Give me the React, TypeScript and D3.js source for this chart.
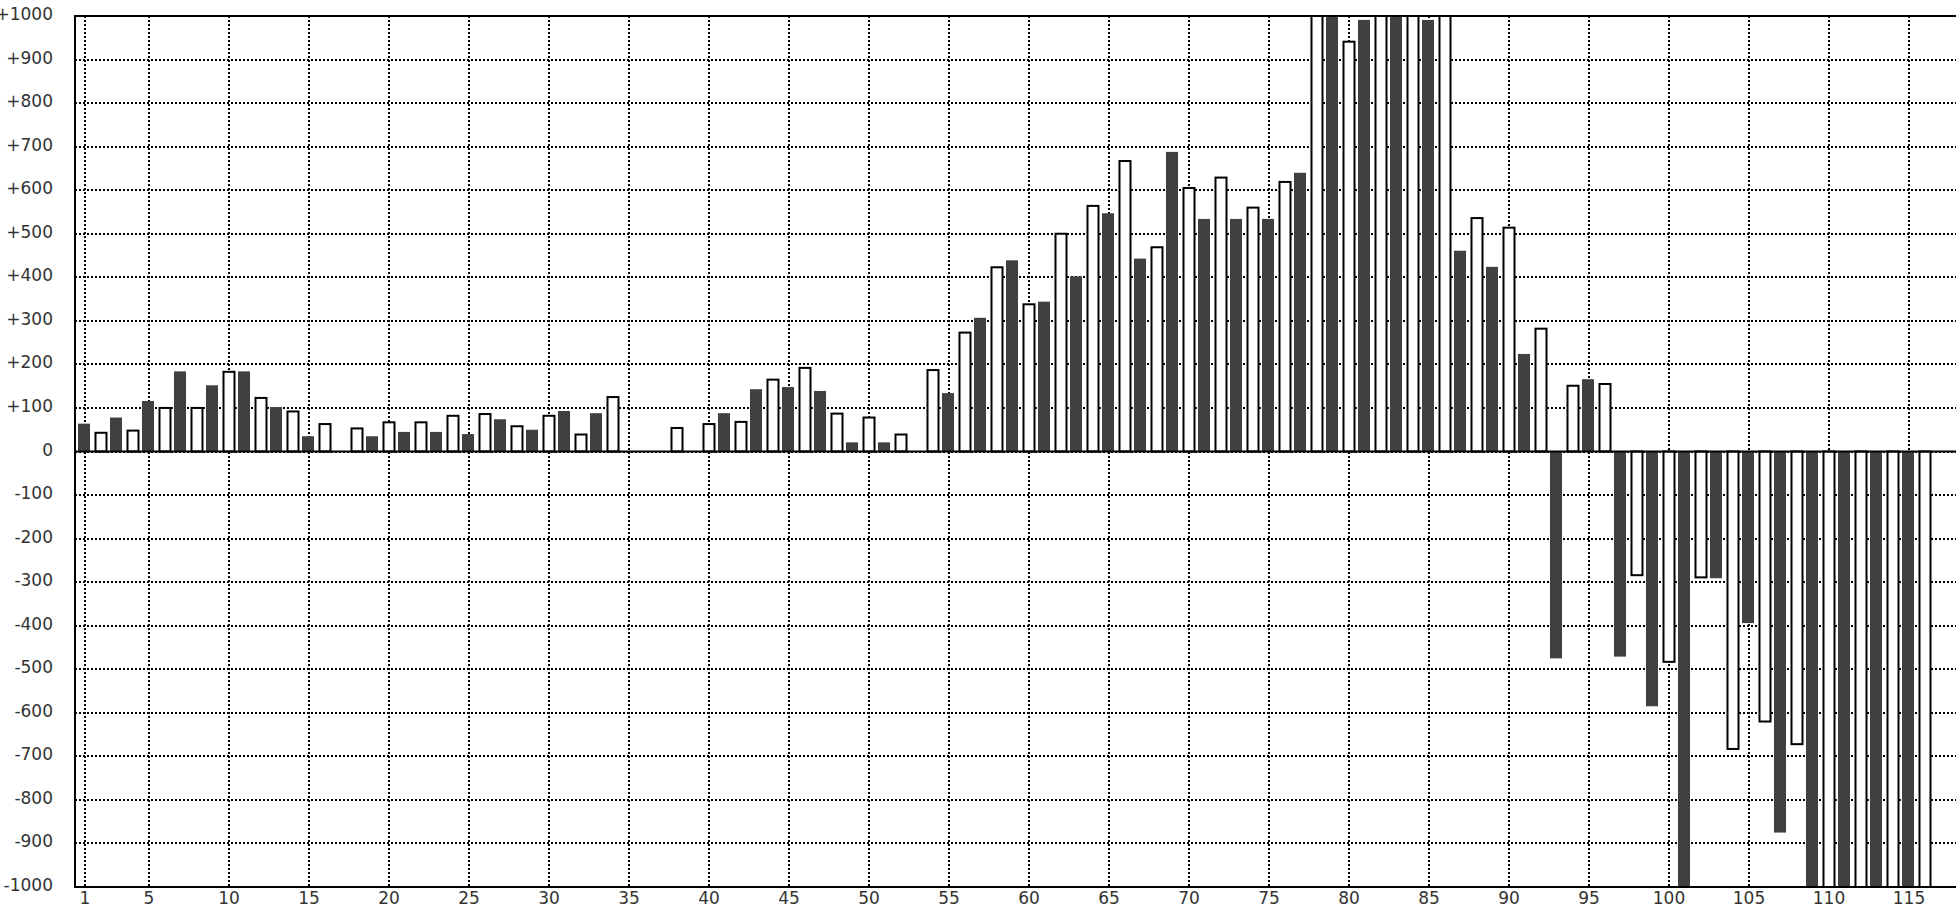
import React from "react";
import * as d3 from "d3";

// Odd positions (1,3,5,...,115) – dark bars
const darkPositions = [1,3,5,7,9,11,13,15,17,19,21,23,25,27,29,31,33,35,37,39,41,43,45,47,49,51,53,55,57,59,61,63,65,67,69,71,73,75,77,79,81,83,85,87,89,91,93,95,97,99,101,103,105,107,109,111,113,115];
const darkValues: (number | null)[] = [64,78,116,184,152,184,102,35,null,35,45,45,40,74,50,93,88,null,null,null,88,143,148,139,21,21,null,134,307,439,344,402,547,443,688,534,534,534,640,1200,991,1000,991,461,424,224,-475,166,-471,-585,-1200,-291,-394,-875,-1200,-1200,-1200,-1200];

// Even positions (2,4,...,116) – white bars
const whitePositions = [2,4,6,8,10,12,14,16,18,20,22,24,26,28,30,32,34,36,38,40,42,44,46,48,50,52,54,56,58,60,62,64,66,68,70,72,74,76,78,80,82,84,86,88,90,92,94,96,98,100,102,104,106,108,110,112,114,116];
const whiteValues: (number | null)[] = [43,48,100,100,183,123,92,63,53,67,67,82,86,58,82,39,125,null,54,63,68,165,192,87,78,39,187,273,423,338,500,564,667,469,605,629,560,619,1200,941,1200,1200,1200,536,514,282,151,155,-284,-483,-289,-683,-620,-672,-1200,-1200,-1200,-1200];

const xTicks = [1,5,10,15,20,25,30,35,40,45,50,55,60,65,70,75,80,85,90,95,100,105,110,115];
const yTicks = [-1000,-900,-800,-700,-600,-500,-400,-300,-200,-100,0,100,200,300,400,500,600,700,800,900,1000];

const W = 1956;
const H = 908;
const left = 75;
const top = 16;
const bottom = 887;
const right = 1960;

export default function App() {
  const x = d3.scaleLinear().domain([0, 118]).range([69, 69 + 16 * 118]);
  const y = d3.scaleLinear().domain([-1000, 1000]).range([bottom, top]);
  const y0 = y(0);
  const fmt = (v: number) => (v > 0 ? "+" + v : String(v));
  const font = "'DejaVu Sans', sans-serif";

  return (
    <svg width={W} height={H} style={{ position: "absolute", left: 0, top: 0, background: "#fff" }}>
      <defs>
        <clipPath id="plot">
          <rect x={left} y={top} width={right - left} height={bottom - top} />
        </clipPath>
      </defs>
      <rect x={0} y={0} width={W} height={H} fill="#fff" />
      <g clipPath="url(#plot)">
        {yTicks.map((t) => (
          <line key={"gy" + t} x1={left} x2={right} y1={Math.round(y(t))} y2={Math.round(y(t))} stroke="#000" strokeWidth={2} strokeDasharray="2 2" shapeRendering="crispEdges" />
        ))}
        {xTicks.map((t) => (
          <line key={"gx" + t} x1={Math.round(x(t))} x2={Math.round(x(t))} y1={top} y2={bottom} stroke="#000" strokeWidth={2} strokeDasharray="2 2" shapeRendering="crispEdges" />
        ))}
        {darkPositions.map((p, i) => {
          const v = darkValues[i];
          if (v === null) return null;
          const yv = y(v);
          return (
            <rect key={"d" + p} x={x(p) - 7} width={12} y={Math.min(yv, y0)} height={Math.abs(yv - y0)} fill="#404040" />
          );
        })}
        {whitePositions.map((p, i) => {
          const v = whiteValues[i];
          if (v === null) return null;
          const yv = y(v);
          return (
            <rect key={"w" + p} x={x(p) - 5.5} width={11} y={Math.min(yv, y0)} height={Math.abs(yv - y0)} fill="#fff" stroke="#000" strokeWidth={2} />
          );
        })}
        <line x1={left} x2={right} y1={y0} y2={y0} stroke="#000" strokeWidth={2} />
      </g>
      <line x1={left} x2={right} y1={top} y2={top} stroke="#000" strokeWidth={2} />
      <line x1={left} x2={right} y1={bottom} y2={bottom} stroke="#000" strokeWidth={2} />
      <line x1={left} x2={left} y1={top - 1} y2={bottom + 1} stroke="#000" strokeWidth={2} />
      {yTicks.map((t) => (
        <text key={"ly" + t} x={53} y={y(t) - 2} textAnchor="end" dominantBaseline="central" fontFamily={font} fontSize={17} fill="#333">
          {fmt(t)}
        </text>
      ))}
      {xTicks.map((t) => (
        <text key={"lx" + t} x={x(t)} y={904} textAnchor="middle" fontFamily={font} fontSize={17} fill="#333">
          {t}
        </text>
      ))}
    </svg>
  );
}
